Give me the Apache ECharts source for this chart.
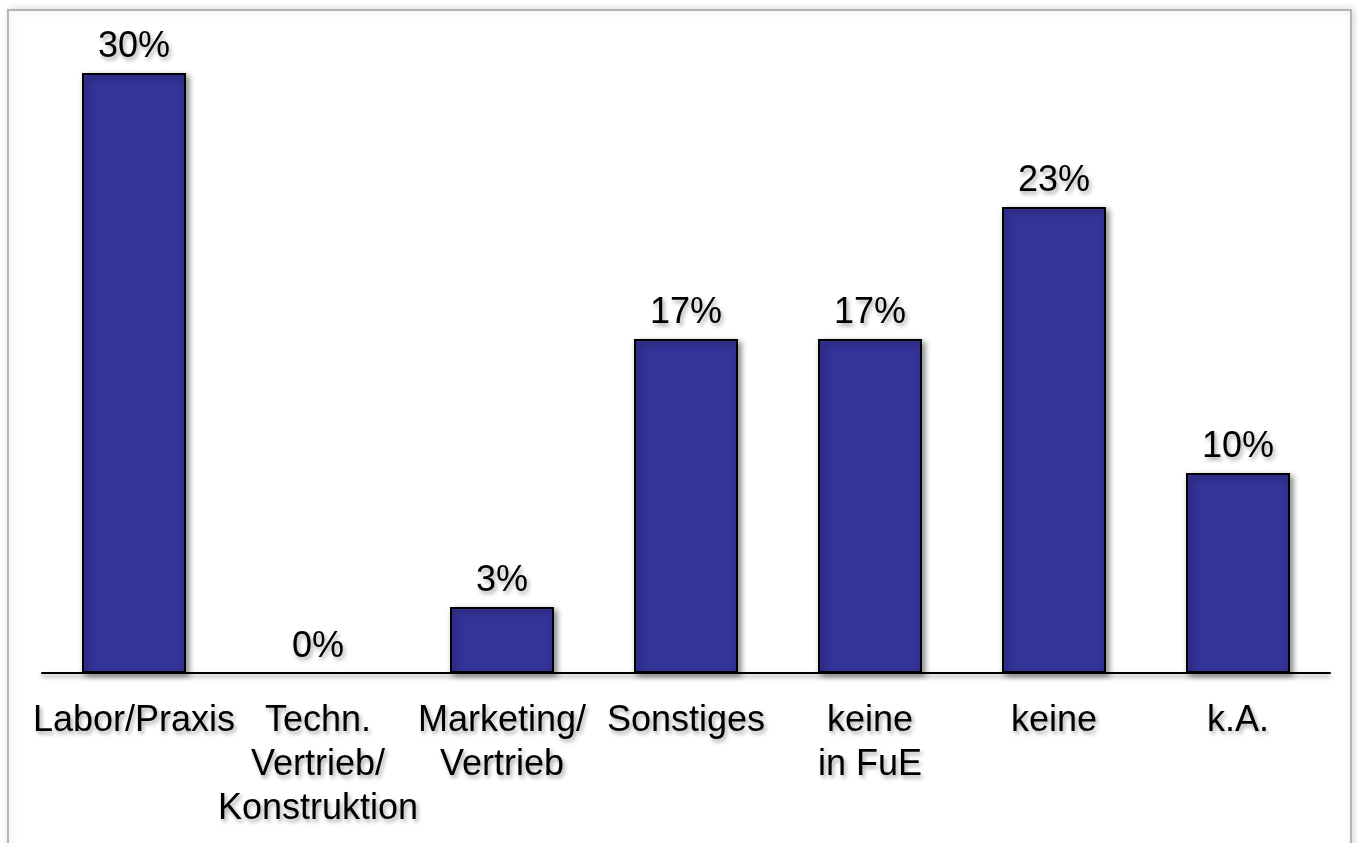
<!DOCTYPE html>
<html>
<head>
<meta charset="utf-8">
<title>Bar chart</title>
<script src="https://cdn.jsdelivr.net/npm/echarts@6/dist/echarts.min.js"></script>
<style>
  html, body { margin: 0; padding: 0; background: #ffffff; }
  #chart { width: 1357px; height: 843px; }
</style>
</head>
<body>
<div id="chart"></div>
<script>
// Categories (multi-line labels) and shares in percent
const categories = [
  'Labor/Praxis',
  'Techn.\nVertrieb/\nKonstruktion',
  'Marketing/\nVertrieb',
  'Sonstiges',
  'keine\nin FuE',
  'keine',
  'k.A.'
];
const shares = [30, 0, 3.3, 16.7, 16.7, 23.3, 10];

const FONT = '"Liberation Sans", Arial, sans-serif';
const textShadow = {
  textShadowColor: 'rgba(0,0,0,0.35)',
  textShadowBlur: 4,
  textShadowOffsetX: 2,
  textShadowOffsetY: 3
};

// Empty bars get no outline or shadow so nothing shows on the axis
const barData = shares.map(v => v === 0
  ? { value: v, itemStyle: { borderWidth: 0, shadowBlur: 0, shadowColor: 'transparent', color: 'transparent' } }
  : v);

const chart = echarts.init(document.getElementById('chart'), null, { renderer: 'canvas' });

chart.setOption({
  backgroundColor: '#ffffff',
  animation: false,
  graphic: [{
    type: 'rect',
    z: -10,
    shape: { x: 8, y: 10, width: 1343, height: 900 },
    style: {
      fill: '#ffffff',
      stroke: '#b4b4b4',
      lineWidth: 2,
      shadowColor: 'rgba(0,0,0,0.15)',
      shadowBlur: 8,
      shadowOffsetX: 2,
      shadowOffsetY: 0
    }
  }],
  grid: { left: 42, right: 27, top: 73, bottom: 170, containLabel: false },
  xAxis: {
    type: 'category',
    data: categories,
    axisTick: { show: false },
    axisLine: {
      lineStyle: {
        color: '#000000',
        width: 2,
        shadowColor: 'rgba(0,0,0,0.4)',
        shadowBlur: 4,
        shadowOffsetY: 3
      }
    },
    axisLabel: Object.assign({
      interval: 0,
      color: '#000000',
      fontFamily: FONT,
      fontSize: 36,
      lineHeight: 44,
      margin: 26,
      align: 'center'
    }, textShadow)
  },
  yAxis: {
    type: 'value',
    min: 0,
    max: 30,
    show: false,
    splitLine: { show: false }
  },
  series: [{
    type: 'bar',
    data: barData,
    barWidth: 104,
    itemStyle: {
      color: '#333399',
      borderColor: '#000000',
      borderWidth: 2,
      shadowColor: 'rgba(0,0,0,0.45)',
      shadowBlur: 6,
      shadowOffsetX: 3,
      shadowOffsetY: 3
    },
    label: Object.assign({
      show: true,
      position: 'top',
      distance: 8,
      color: '#000000',
      fontFamily: FONT,
      fontSize: 36,
      formatter: p => Math.round(p.value) + '%'
    }, textShadow)
  }]
});
</script>
</body>
</html>
